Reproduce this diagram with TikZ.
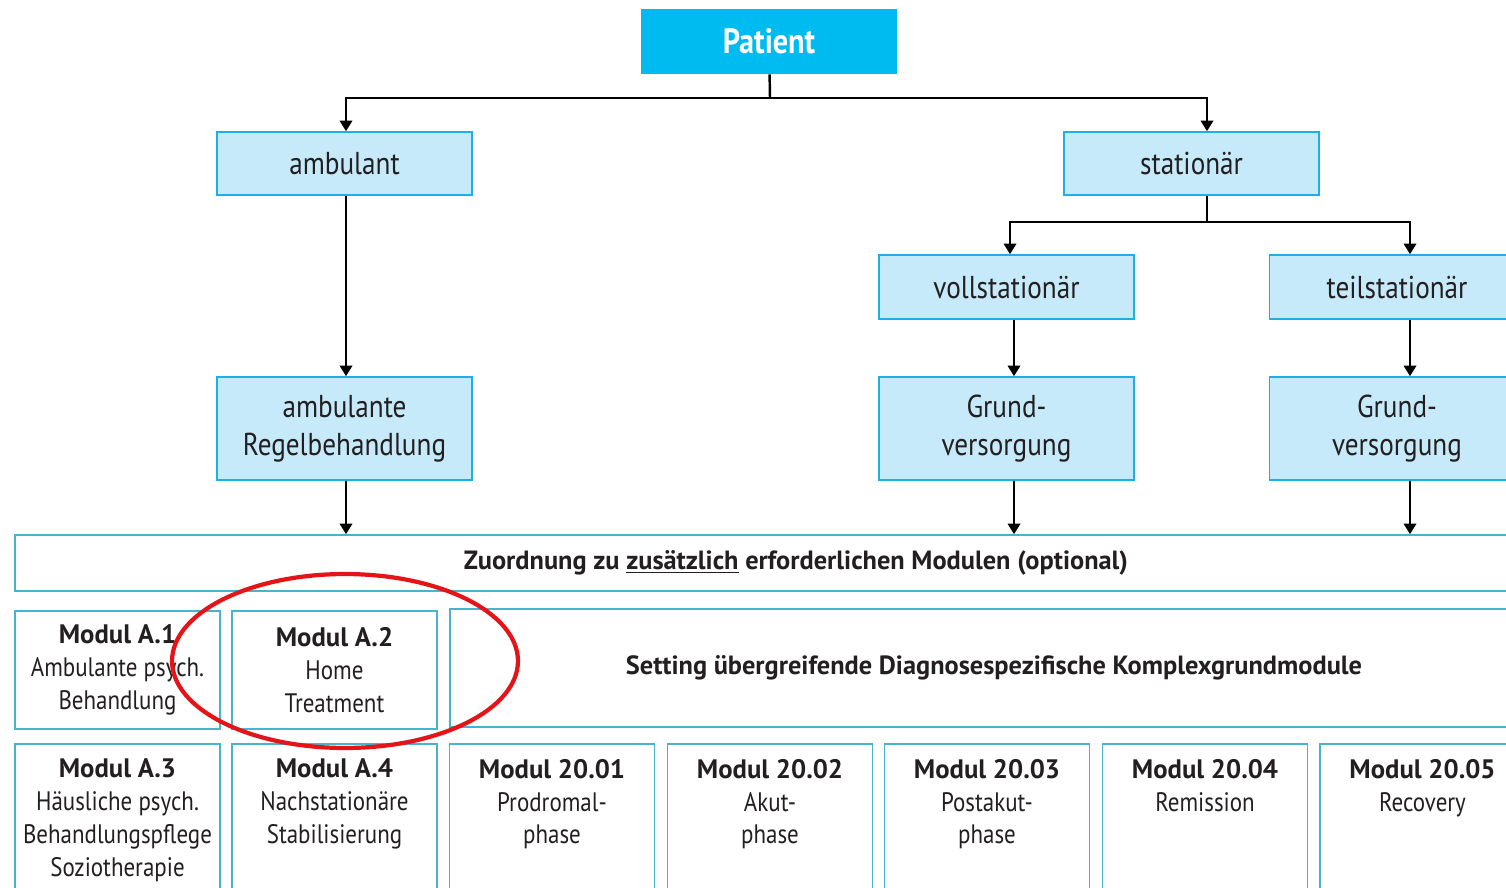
\documentclass[tikz,border=0pt]{standalone}
\usepackage{fontspec}
\setmainfont{PT Sans}[FakeStretch=0.86]
\newfontfamily\headfont{PT Sans}
\usetikzlibrary{arrows.meta,positioning}

\definecolor{patcyan}{RGB}{0,187,240}
\definecolor{boxfill}{RGB}{198,234,250}
\definecolor{boxline}{RGB}{30,175,230}
\definecolor{modline}{RGB}{70,180,205}
\definecolor{txt}{RGB}{35,31,32}
\definecolor{markred}{RGB}{228,20,24}

\newcommand{\modhead}[1]{{\headfont\bfseries #1}}

\begin{document}
\begin{tikzpicture}[x=0.02cm, y=-0.02cm,
  every node/.style={text=txt, font=\fontsize{18}{21.5}\selectfont},
  treebox/.style={draw=boxline, line width=0.9pt, fill=boxfill, minimum width=5.1cm, align=center, inner sep=0pt},
  modbox/.style={draw=modline, line width=0.9pt, fill=white, inner sep=0pt, align=center},
  modtext/.style={align=center, font=\fontsize{15.2}{18.7}\selectfont, inner sep=0pt},
  arr/.style={line width=1.4pt, -{Triangle[length=6pt,width=7pt]}},
  link/.style={line width=1.4pt}]
  \useasboundingbox (0,0) rectangle (1506,888);
  \clip (0,0) rectangle (1506,888);
  % arrow columns
  \coordinate (colA) at (346,0);
  \coordinate (colS) at (1207,0);
  \coordinate (colV) at (1010,0);
  \coordinate (colV2) at (1014,0);
  \coordinate (colT) at (1410,0);
  % top level
  \node[fill=patcyan, minimum width=5.12cm, minimum height=1.3cm, text=white,
        font=\fontsize{20}{24}\selectfont\bfseries] (patient) at (769,41.5) {Patient};
  \node[treebox, minimum height=1.26cm] (amb) at (344.5,163.5) {ambulant};
  \node[treebox, minimum height=1.26cm] (stat) at (1191.5,163.5) {stationär};
  \coordinate (split1) at (770,98);
  \draw[link] (patient) -- (split1);
  \draw[arr] (split1) -| (colA |- amb.north);
  \draw[arr] (split1) -| (colS |- stat.north);
  % stationary branch
  \node[treebox, minimum height=1.28cm] (voll) at (1006.5,287) {vollstationär};
  \node[treebox, minimum height=1.28cm] (teil) at (1397,287) {teilstationär};
  \coordinate (split2) at (1207,222);
  \draw[link] (colS |- stat.south) -- (split2);
  \draw[arr] (split2) -| (colV |- voll.north);
  \draw[arr] (split2) -| (colT |- teil.north);
  % second level
  \node[treebox, minimum height=2.06cm] (regel) at (344.5,428.5) {ambulante\\Regelbehandlung};
  \node[treebox, minimum height=2.06cm] (grund1) at (1006.5,428.5) {Grund-\\versorgung};
  \node[treebox, minimum height=2.06cm] (grund2) at (1397,428.5) {Grund-\\versorgung};
  \draw[arr] (colA |- amb.south) -- (colA |- regel.north);
  \draw[arr] (colV2 |- voll.south) -- (colV2 |- grund1.north);
  \draw[arr] (colT |- teil.south) -- (colT |- grund2.north);
  % module assignment
  \node[modbox, minimum width=31.24cm, minimum height=1.12cm,
        font=\fontsize{15}{17}\headfont\bfseries] (zu) at (796,563)
        {Zuordnung zu \underline{zusätzlich} erforderlichen Modulen (optional)};
  \draw[arr] (colA |- regel.south) -- (colA |- zu.north);
  \draw[arr] (colV2 |- grund1.south) -- (colV2 |- zu.north);
  \draw[arr] (colT |- grund2.south) -- (colT |- zu.north);
  % first row of modules
  \node[modbox, modtext, minimum width=4.1cm, minimum height=2.36cm] (ma1) at (117.5,670)
        {\modhead{Modul A.1}\\Ambulante psych.\\Behandlung};
  \node[modbox, modtext, minimum width=4.1cm, minimum height=2.36cm] (ma2) at (334.5,670)
        {\modhead{Modul A.2}\\Home\\Treatment};
  \node[modbox, minimum width=21.76cm, minimum height=2.36cm,
        font=\fontsize{15}{17}\headfont\bfseries] (setting) at (994,668)
        {Setting übergreifende Diagnosespezifische Komplexgrundmodule};
  % second row of modules
  \foreach \n/\x/\desc in {a3/117.5/{\modhead{Modul A.3}\\Häusliche psych.\\Behandlungspflege\\Soziotherapie},
      a4/334.5/{\modhead{Modul A.4}\\Nachstationäre\\Stabilisierung},
      d1/552/{\modhead{Modul 20.01}\\Prodromal-\\phase},
      d2/770/{\modhead{Modul 20.02}\\Akut-\\phase},
      d3/987/{\modhead{Modul 20.03}\\Postakut-\\phase},
      d4/1205/{\modhead{Modul 20.04}\\Remission},
      d5/1422.5/{\modhead{Modul 20.05}\\Recovery}}{
    \node[modbox, minimum width=4.1cm, minimum height=3.22cm] (m\n) at (\x,824.5) {};
    \node[modtext, anchor=north, below=0.31cm of m\n.north] (t\n) {\desc};
  }
  % red marking
  \draw[markred, line width=2.4pt] (345,661) ellipse [x radius=3.46cm, y radius=1.74cm];
\end{tikzpicture}
\end{document}
